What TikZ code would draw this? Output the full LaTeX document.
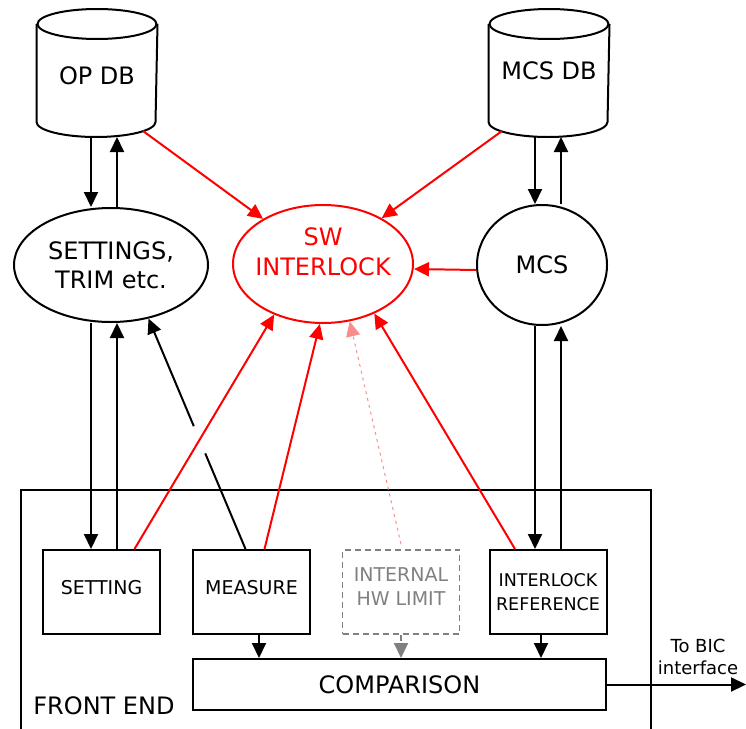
\documentclass[tikz,border=0pt]{standalone}
\usepackage{fontspec}
\setmainfont{DejaVu Sans}
\usepackage{tikz}
\usetikzlibrary{arrows.meta,positioning,shapes.geometric,calc}
\definecolor{hwgray}{RGB}{128,128,128}
\definecolor{lightred}{RGB}{250,140,140}
% outline of a database drum round a named node
\newcommand{\dbdraw}[1]{%
  \draw ([yshift=-15pt]#1.north west) -- ([yshift=15pt]#1.south west)
    arc[start angle=180, end angle=360, x radius=59.5pt, y radius=15pt]
    -- ([yshift=-15pt]#1.north east);
  \draw ([yshift=-15pt]#1.north) ellipse[x radius=59.5pt, y radius=15pt];}

\begin{document}
\begin{tikzpicture}[x=1pt, y=-1pt, line width=2pt, >={Triangle[length=15pt,width=14pt]}, every node/.style={font=\fontsize{24}{29}\selectfont, align=center}]
\tikzset{db/.style={minimum width=119pt, minimum height=126pt, inner sep=0pt}}
\tikzset{oval/.style={draw, ellipse, inner sep=0pt}}
\tikzset{blk/.style={draw, minimum width=117pt, minimum height=84pt, inner sep=1pt, font=\fontsize{19}{24}\selectfont}}
\clip (0,0) rectangle (746,728);

% Top: databases
\node[db, text height=23.5pt] (opdb) at (97,73) {OP DB};
\node[db, text depth=4pt] (mcsdb) at (549,73) {MCS DB};
\dbdraw{opdb}
\dbdraw{mcsdb}

% Middle: settings, sw interlock, mcs
\node[oval, minimum width=194pt, minimum height=114pt] (settings) at (111,265) {SETTINGS,\\TRIM etc.};
\node[oval, red, minimum width=180pt, minimum height=118pt, label={[red, yshift=12pt, font=\fontsize{24}{30}\selectfont]center:{SW\\INTERLOCK}}] (sw) at (323,264) {};
\node[oval, minimum width=130pt, minimum height=120pt] (mcs) at (542,265) {MCS};

% Bottom: front end
\node[draw, minimum width=630pt, minimum height=280pt, inner sep=0pt] (fe) at (336,630) {};
\node (felbl) at (104,706) {FRONT END};
\node[blk, text depth=10pt] (setting) at (101.5,592) {SETTING};
\node[blk, text depth=10pt] (measure) at (251.5,592) {MEASURE};
\node[blk, text depth=10pt, hwgray, line width=1.6pt, dash pattern=on 6pt off 4pt] (hwlim) at (401,592) {INTERNAL\\HW LIMIT};
\node[blk, font=\fontsize{17.5}{24}\selectfont] (iref) at (548,592) {INTERLOCK\\REFERENCE};
\node[draw, minimum width=413pt, minimum height=51pt] (comp) at (399.5,684.5) {COMPARISON};
\node[font=\fontsize{18}{22}\selectfont] (biclbl) at (698,657) {To BIC\\interface};
\coordinate (bic) at (746,685);

% black links
\coordinate (xa) at (91,0); \coordinate (xb) at (117,0);
\coordinate (xc) at (535,0); \coordinate (xd) at (561,0);
\coordinate (xm) at (259,0); \coordinate (xr) at (541,0);
\draw[->] (opdb.south -| xa) -- (settings.north -| xa);
\draw[->] (settings.north -| xb) -- (opdb.south -| xb);
\draw[->] (settings.south -| xa) -- (setting.north -| xa);
\draw[->] (setting.north -| xb) -- (settings.south -| xb);
\draw[->] (mcsdb.south -| xc) -- (mcs.north -| xc);
\draw[->] (mcs.north -| xd) -- (mcsdb.south -| xd);
\draw[->] (mcs.south -| xc) -- (iref.north -| xc);
\draw[->] (iref.north -| xd) -- (mcs.south -| xd);
\coordinate (mfrom) at ([xshift=-6pt]measure.north);
\draw (mfrom) -- ($(mfrom)!0.415!(settings.-55)$);
\draw[->] ($(mfrom)!0.533!(settings.-55)$) -- (settings.-55);
\draw[->] (measure.south -| xm) -- (comp.north -| xm);
\draw[->] (iref.south -| xr) -- (comp.north -| xr);
\draw[->, hwgray, dash pattern=on 6pt off 4pt] (hwlim.south) -- (comp.north -| hwlim.south);
\draw[->] (comp.east) -- (comp.east -| bic);

% red links to sw interlock
\draw[->, red] ([xshift=46pt, yshift=6pt]opdb.south) -- (sw.143);
\draw[->, red] ([xshift=-47pt, yshift=6pt]mcsdb.south) -- (sw.38);
\draw[->, red] ([yshift=-5pt]mcs.west) -- ([yshift=-5pt]sw.east);
\draw[->, red] ([xshift=33pt]setting.north) -- (sw.-134);
\draw[->, red] ([xshift=13pt]measure.north) -- (sw.-93);
\draw[->, lightred, line width=1pt, dash pattern=on 3pt off 4pt] ([yshift=5pt]hwlim.north) -- (sw.-65);
\draw[->, red] ([xshift=-33pt]iref.north) -- (sw.-44);
\end{tikzpicture}
\end{document}
